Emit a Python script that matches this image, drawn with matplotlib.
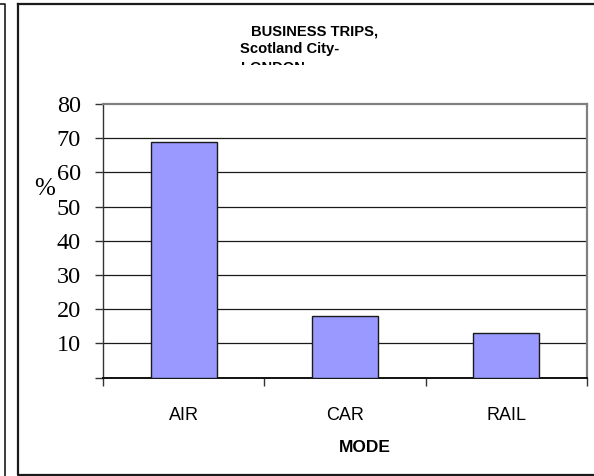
import matplotlib
matplotlib.use("Agg")
import matplotlib.pyplot as plt
from matplotlib.lines import Line2D
from matplotlib.transforms import Bbox

# data
modes = ["AIR", "CAR", "RAIL"]
share = [69, 18, 13]  # % of business trips
yticks = [0, 10, 20, 30, 40, 50, 60, 70, 80]
ytick_labels = ["", "10", "20", "30", "40", "50", "60", "70", "80"]
title_lines = ["BUSINESS TRIPS,", "Scotland City-", "LONDON"]

W, H = 594, 476
fig = plt.figure(figsize=(W / 100, H / 100), dpi=100)
sans = ["Liberation Sans", "DejaVu Sans"]
serif = ["Liberation Serif", "DejaVu Serif"]


def px(x, y):
    # pixel position (from top-left) -> figure fraction
    return x / W, 1 - y / H


# outer frames
fig.add_artist(Line2D([18 / W, 18 / W, 1.05, 1.05, 18 / W],
                      [1 - 4 / H, 1 - 475 / H, 1 - 475 / H, 1 - 4 / H, 1 - 4 / H],
                      transform=fig.transFigure, color="#1a1a1a", lw=1.6))
fig.add_artist(Line2D([0, 4.5 / W, 4.5 / W], [1 - 4 / H, 1 - 4 / H, 0],
                      transform=fig.transFigure, color="#1a1a1a", lw=1.2))

l, r = 103 / W, 587 / W
b, t = 1 - 377.5 / H, 1 - 104 / H
ax = fig.add_axes([l, b, r - l, t - b])

x = list(range(len(modes)))
ax.bar(x, share, width=0.41, color="#9999ff", edgecolor="#1a1a1a", linewidth=1.0, zorder=3)

ax.set_xlim(-0.5, len(modes) - 0.5)
ax.set_ylim(0, 80)
ax.set_yticks(yticks)
ax.set_yticklabels(ytick_labels, fontfamily=serif, fontsize=17.5)
for yv in yticks[1:-1]:
    ax.axhline(yv, color="#1a1a1a", lw=0.9, zorder=1)

ax.set_xticks([-0.5, 0.5, 1.5, 2.5])
ax.set_xticklabels([])
ax.set_xticks(x, minor=True)
ax.set_xticklabels(modes, minor=True, fontfamily=sans, fontsize=13)
ax.tick_params(axis="x", which="major", direction="out", length=6, width=1, color="#333333")
ax.tick_params(axis="x", which="minor", length=0, pad=21)
ax.tick_params(axis="y", direction="out", length=6, width=1, pad=10, color="#333333")

for side in ["top", "right"]:
    ax.spines[side].set_color("#808080")
    ax.spines[side].set_linewidth(1.6)
ax.spines["left"].set_color("#333333")
ax.spines["bottom"].set_color("#111111")
ax.spines["left"].set_linewidth(1.0)
ax.spines["bottom"].set_linewidth(1.4)

# axis titles
fig.text(*px(45, 189), "%", fontfamily=serif, fontsize=18, ha="center", va="center")
fig.text(*px(365, 448), "MODE", fontfamily=sans, fontsize=12.5, fontweight="bold",
         ha="center", va="center")

# chart title, last line cut off by the plot block
fig.text(*px(250.7, 35), title_lines[0], fontfamily=sans, fontsize=10.6, fontweight="bold",
         ha="left", va="baseline")
fig.text(*px(240, 53.3), title_lines[1], fontfamily=sans, fontsize=10.6, fontweight="bold",
         ha="left", va="baseline")
cut = fig.text(*px(241, 71.5), title_lines[2], fontfamily=sans, fontsize=10.6,
               fontweight="bold", ha="left", va="baseline")
cut.set_clip_box(Bbox.from_extents(0, H - 65, W, H))
cut.set_clip_on(True)

fig.savefig("out.png", dpi=100)
